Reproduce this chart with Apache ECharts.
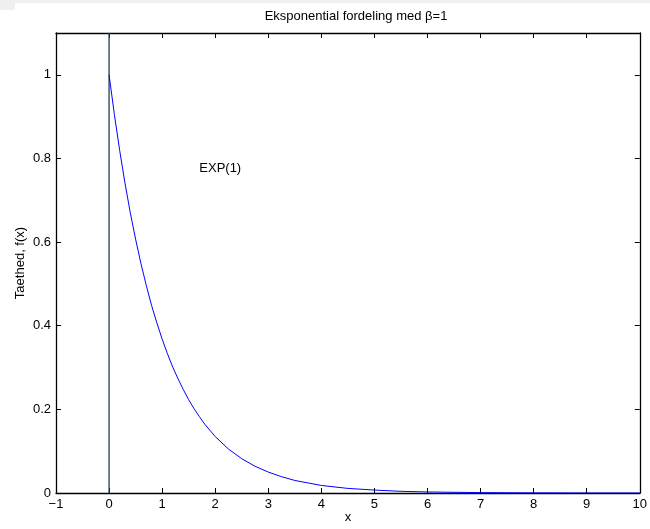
<!DOCTYPE html>
<html>
<head>
<meta charset="utf-8">
<script src="https://cdn.jsdelivr.net/npm/echarts@6/dist/echarts.min.js"></script>
<style>
    html, body { margin: 0; padding: 0; background: #fff; }
    #chart { width: 650px; height: 529px; }
</style>
</head>
<body>
<div id="chart"></div>
<script>
// 曲线上读出的点 (x, f(x))
var xVals = [0, 0.1, 0.2, 0.3, 0.4, 0.5, 0.6, 0.7, 0.8, 0.9, 1, 1.1, 1.2, 1.3, 1.4, 1.5, 1.6, 1.7, 1.8, 1.9, 2,
    2.25, 2.5, 2.75, 3, 3.25, 3.5, 3.75, 4, 4.5, 5, 5.5, 6, 7, 8, 9, 10];
var yVals = [1, 0.905, 0.819, 0.741, 0.67, 0.607, 0.549, 0.497, 0.449, 0.407, 0.368, 0.333, 0.301, 0.273, 0.247, 0.223, 0.202, 0.183, 0.165, 0.15, 0.135,
    0.105, 0.082, 0.064, 0.05, 0.039, 0.03, 0.024, 0.018, 0.011, 0.007, 0.004, 0.0025, 0.0009, 0.0003, 0.0001, 0.00005];
// x=0 处的竖线
var vlineX = [0, 0];
var vlineY = [0, 1.1];
var labelText = 'EXP(1)';
var labelPos = [1.7, 0.775];
var titleText = 'Eksponential fordeling med \u03b2=1';
var xName = 'x';
var yName = 'Taethed, f(x)';

var FONT = "'Liberation Sans', Arial, Helvetica, sans-serif";
var FS = 13;

function pairs(xs, ys) {
    var arr = [];
    for (var i = 0; i < xs.length; i++) {
        arr.push([xs[i], ys[i]]);
    }
    return arr;
}

var chart = echarts.init(document.getElementById('chart'), null, {renderer: 'canvas'});

var axisLineStyle = {show: true, onZero: false, lineStyle: {color: '#000', width: 1.3}};
var tickStyle = {show: true, inside: true, length: 5, lineStyle: {color: '#000', width: 1}};

var option = {
    animation: false,
    backgroundColor: '#fff',
    textStyle: {fontFamily: FONT},
    title: {
        text: titleText,
        left: 351,
        textAlign: 'center',
        top: 5,
        textStyle: {fontSize: FS, fontWeight: 'normal', color: '#000', fontFamily: FONT}
    },
    graphic: [
        {type: 'rect', shape: {x: 0, y: 0, width: 650, height: 3}, style: {fill: '#f0f0f0'}, silent: true},
        {type: 'rect', shape: {x: 0, y: 0, width: 15, height: 10}, style: {fill: '#f0f0f0'}, silent: true}
    ],
    grid: {left: 56, right: 4, top: 33, bottom: 31, containLabel: false},
    xAxis: [{
        type: 'value',
        position: 'bottom',
        min: -1,
        max: 10,
        interval: 1,
        name: xName,
        nameLocation: 'middle',
        nameGap: 18,
        nameMoveOverlap: false,
        nameTextStyle: {fontSize: FS, color: '#000', fontFamily: FONT},
        axisLine: axisLineStyle,
        axisTick: tickStyle,
        splitLine: {show: false},
        axisLabel: {
            fontSize: FS, color: '#000', margin: 5, fontFamily: FONT,
            formatter: function (v) { return String(v).replace('-', '\u2212'); }
        }
    }, {
        type: 'value',
        position: 'top',
        min: -1,
        max: 10,
        interval: 1,
        axisLine: axisLineStyle,
        axisTick: tickStyle,
        splitLine: {show: false},
        axisLabel: {show: false}
    }],
    yAxis: [{
        type: 'value',
        position: 'left',
        min: 0,
        max: 1.1,
        interval: 0.2,
        name: yName,
        nameLocation: 'middle',
        nameGap: 29,
        nameMoveOverlap: false,
        nameRotate: 90,
        nameTextStyle: {fontSize: FS, color: '#000', fontFamily: FONT},
        axisLine: axisLineStyle,
        axisTick: tickStyle,
        splitLine: {show: false},
        axisLabel: {
            fontSize: FS, color: '#000', margin: 5, fontFamily: FONT,
            formatter: function (v) {
                if (Math.abs(v - 1.1) < 1e-9) return '';
                return String(Math.round(v * 10) / 10);
            }
        }
    }, {
        type: 'value',
        position: 'right',
        min: 0,
        max: 1.1,
        interval: 0.2,
        axisLine: axisLineStyle,
        axisTick: tickStyle,
        splitLine: {show: false},
        axisLabel: {show: false}
    }],
    series: [{
        type: 'line',
        name: 'vline',
        data: pairs(vlineX, vlineY),
        symbol: 'none',
        lineStyle: {color: '#1f3f4f', width: 1.3},
        z: 3
    }, {
        type: 'line',
        name: 'exp',
        data: pairs(xVals, yVals),
        smooth: false,
        symbol: 'none',
        lineStyle: {color: '#0000ff', width: 1},
        z: 4,
        markPoint: {
            symbol: 'circle',
            symbolSize: 0,
            data: [{coord: labelPos}],
            label: {
                show: true,
                position: 'right',
                distance: 0,
                formatter: labelText,
                fontSize: FS,
                color: '#000',
                fontFamily: FONT
            }
        }
    }]
};

chart.setOption(option);
</script>
</body>
</html>
